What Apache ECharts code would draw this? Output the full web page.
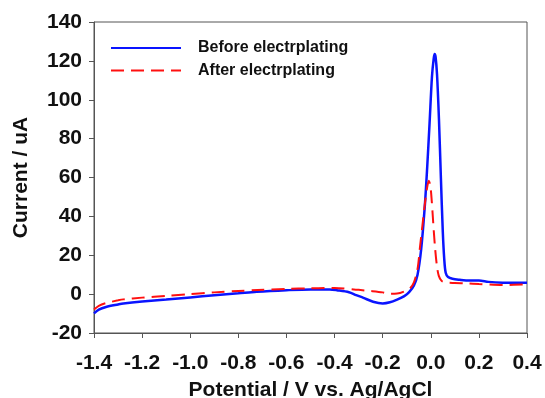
<!DOCTYPE html>
<html>
<head>
<meta charset="utf-8">
<script src="https://cdn.jsdelivr.net/npm/echarts@6/dist/echarts.min.js"></script>
<style>html,body{margin:0;padding:0;background:#fff;}#c{width:545px;height:398px;}</style>
</head>
<body>
<div id="c"></div>
<script>
var beforeX = [-1.4,-1.38,-1.35,-1.3,-1.278,-1.2,-1.1,-1.0,-0.9,-0.8,-0.724,-0.6,-0.5,-0.42,-0.39,-0.34,-0.31,-0.28,-0.24,-0.20,-0.17,-0.14,-0.11,-0.09,-0.07,-0.055,-0.04,-0.025,-0.015,-0.005,0.005,0.012,0.016,0.02,0.026,0.034,0.042,0.05,0.056,0.062,0.072,0.09,0.12,0.16,0.2,0.24,0.3,0.4];
var beforeY = [-9.9,-8.0,-6.6,-5.3,-4.8,-3.8,-2.8,-1.7,-0.6,0.4,1.2,2.0,2.4,2.4,2.0,1.0,-0.5,-1.9,-3.9,-4.8,-4.2,-2.8,-1.0,1.0,4.5,10,23,45,65,88,112,121,123.5,122,113,90,60,32,18,11,8.8,7.9,7.4,7.0,7.0,6.3,5.9,5.8];
var afterX = [-1.4,-1.38,-1.35,-1.3,-1.278,-1.2,-1.1,-1.0,-0.9,-0.8,-0.72,-0.6,-0.5,-0.44,-0.4,-0.3,-0.25,-0.2,-0.17,-0.14,-0.11,-0.085,-0.07,-0.055,-0.045,-0.035,-0.024,-0.015,-0.008,-0.002,0.004,0.01,0.017,0.025,0.033,0.045,0.06,0.1,0.15,0.2,0.3,0.4];
var afterY = [-7.9,-6.0,-4.6,-3.2,-2.7,-1.8,-0.9,0.0,0.9,1.6,2.1,2.7,3.0,3.2,3.2,2.2,1.6,0.9,0.2,0.3,1.4,3.2,6,13,24,35,47,55,58.3,56,48,37,25,15,9.5,6.8,6.0,5.7,5.5,5.2,4.7,5.0];
var seriesNames = ['Before electrplating','After electrplating'];

function pairs(xs, ys){ return xs.map(function(x,i){ return [x, ys[i]]; }); }

var chart = echarts.init(document.getElementById('c'), null, {renderer:'canvas'});
var font = '"Liberation Sans", Arial, sans-serif';
chart.setOption({
  animation: false,
  grid: {left: 94, right: 18, top: 22, bottom: 65, show: true, borderColor: '#555', borderWidth: 1,
         containLabel: false, outerBoundsMode: 'none'},
  legend: {
    orient: 'vertical', left: 110, top: 40, padding: 0, itemWidth: 70, itemHeight: 14, itemGap: 6.5,
    itemStyle: {opacity: 0},
    textStyle: {fontFamily: font, fontWeight: 'bold', fontSize: 16, color: '#111', padding: [0,0,0,12]},
    data: seriesNames
  },
  xAxis: {
    type: 'value', min: -1.4, max: 0.4, interval: 0.2,
    axisLine: {onZero: false, lineStyle: {color: '#555', width: 1}},
    axisTick: {show: true, length: 5, inside: false, lineStyle: {color: '#555'}},
    splitLine: {show: false},
    axisLabel: {margin: 20, color: '#111', fontFamily: font, fontWeight: 'bold', fontSize: 21,
      formatter: function(v){ return (Math.round(v*10)/10).toFixed(1); }},
    name: 'Potential / V vs. Ag/AgCl', nameLocation: 'middle', nameGap: 47,
    nameTextStyle: {color: '#111', fontFamily: font, fontWeight: 'bold', fontSize: 21}
  },
  yAxis: {
    type: 'value', min: -20, max: 140, interval: 20,
    axisLine: {show: true, onZero: false, lineStyle: {color: '#555', width: 1}},
    axisTick: {show: true, length: 5, inside: false, lineStyle: {color: '#555'}},
    splitLine: {show: false},
    axisLabel: {margin: 12, color: '#111', fontFamily: font, fontWeight: 'bold', fontSize: 21},
    name: 'Current / uA', nameLocation: 'middle', nameGap: 62, nameRotate: 90,
    nameTextStyle: {color: '#111', fontFamily: font, fontWeight: 'bold', fontSize: 21}
  },
  series: [
    {name: seriesNames[0], type: 'line', data: pairs(beforeX, beforeY), smooth: 0.3, symbol: 'none',
     lineStyle: {color: '#0a14ff', width: 2.5}, itemStyle: {color: '#0a14ff'}, z: 3},
    {name: seriesNames[1], type: 'line', data: pairs(afterX, afterY), smooth: 0.3, symbol: 'none',
     lineStyle: {color: '#ff1010', width: 2, type: [13,7]}, itemStyle: {color: '#ff1010'}, z: 4}
  ]
});
</script>
</body>
</html>
